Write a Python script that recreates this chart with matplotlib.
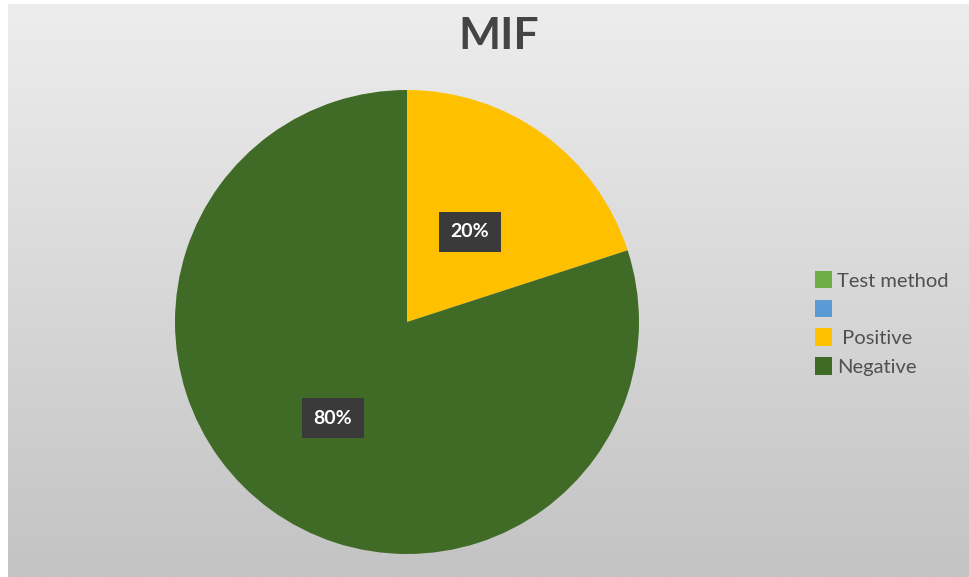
import numpy as np
import matplotlib.pyplot as plt
from matplotlib.patches import Patch
from matplotlib.colors import LinearSegmentedColormap

# Chart data
title = 'MIF'
slice_labels = ['Positive', 'Negative']
slice_values = [20, 80]
slice_colors = ['#ffc000', '#3f6b27']
legend_labels = ['Test method', '', ' Positive', 'Negative']
legend_colors = ['#70ad47', '#5b9bd5', '#ffc000', '#3f6b27']

W, H = 969, 577
fig = plt.figure(figsize=(W / 100, H / 100), dpi=100)
fig.patch.set_facecolor('white')

# Gray gradient background of the chart area
bg = fig.add_axes([8 / W, 0, 1 - 8 / W, 1 - 4 / H])
grad = np.linspace(0, 1, 256).reshape(-1, 1)
bg.imshow(grad, aspect='auto', cmap=LinearSegmentedColormap.from_list('g', ['#ededed', '#c3c3c3']),
          extent=[0, 1, 0, 1], origin='upper')
bg.set_axis_off()

# Pie: centre (407, 322), radius 232 px
cx, cy, r = 407, 322, 232
ax = fig.add_axes([(cx - r) / W, (H - cy - r) / H, 2 * r / W, 2 * r / H])
wedges, _ = ax.pie(slice_values, colors=slice_colors, startangle=90, counterclock=False,
                   wedgeprops=dict(linewidth=0))
ax.set_xlim(-1, 1)
ax.set_ylim(-1, 1)
ax.set_aspect('auto')

# Percentage labels in dark boxes
label_pos = [(470, 232), (333, 418)]
for v, (px, py) in zip(slice_values, label_pos):
    fig.text(px / W, 1 - py / H, f'{v}%', ha='center', va='center', color='white',
             fontsize=14, fontweight='bold', family='Lato',
             bbox=dict(boxstyle='square,pad=0.6', facecolor='#3a3a3a', edgecolor='none'))

fig.text(499 / W, 1 - 36 / H, title, ha='center', va='center', fontsize=32,
         fontweight='bold', color='#444444', family='Lato')

handles = [Patch(facecolor=c, edgecolor='none') for c in legend_colors]
leg = fig.legend(handles, legend_labels, loc='upper left',
                 bbox_to_anchor=(797 / W, 1 - 253 / H), frameon=False,
                 labelspacing=0.5, handlelength=0.85, handleheight=0.95,
                 handletextpad=0.25, prop={'family': 'Lato', 'size': 14.5})
for t in leg.get_texts():
    t.set_color('#505050')

fig.savefig('out.png', dpi=100)
